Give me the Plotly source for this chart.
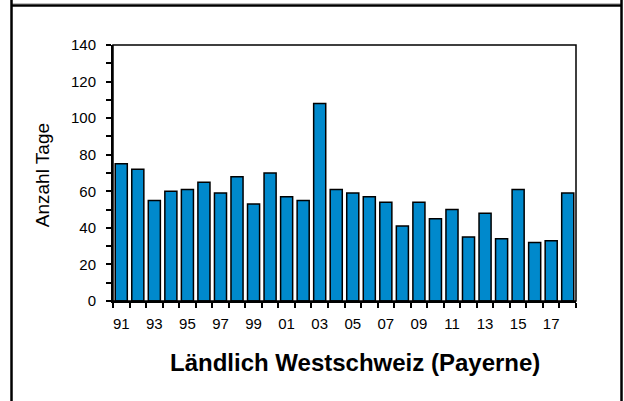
#!/usr/bin/env python
"""
Anzahl Tage - Ländlich Westschweiz (Payerne)
"""

import plotly.graph_objects as go

YEARS = list(range(1991, 2019))
TAGE = [75, 72, 55, 60, 61, 65, 59, 68, 53, 70, 57, 55, 108, 61,
        59, 57, 54, 41, 54, 45, 50, 35, 48, 34, 61, 32, 33, 59]
TITLE = 'Ländlich Westschweiz (Payerne)'
Y_TITLE = 'Anzahl Tage'

FONT = 'Liberation Sans, Arial, sans-serif'
BLUE = 'rgb(0,137,204)'


def year_labels(years):
    "Two digit labels, every second year"
    return [str(y)[2:] for y in years[::2]]


fig = go.Figure()
fig.add_trace(go.Bar(
    x=list(range(len(YEARS))),
    y=TAGE,
    marker=dict(color=BLUE, line=dict(color='black', width=1.5)),
    hoverinfo='skip'
))

fig.update_layout(
    width=624,
    height=401,
    margin=dict(l=113, r=48, t=45, b=100),
    paper_bgcolor='white',
    plot_bgcolor='white',
    showlegend=False,
    bargap=0.27,
    font=dict(family=FONT, size=15, color='black'),
    xaxis=dict(
        range=[-0.5, len(YEARS) - 0.5],
        tickmode='array',
        tickvals=list(range(0, len(YEARS), 2)),
        ticktext=year_labels(YEARS),
        ticks='outside',
        ticklen=5,
        tickcolor='rgba(0,0,0,0)',
        ticklabelstandoff=3,
        showgrid=False,
        zeroline=False,
        showline=True,
        linecolor='black',
        linewidth=2,
        minor=dict(
            tickmode='array',
            tickvals=[i - 0.5 for i in range(len(YEARS) + 1)],
            ticks='outside',
            ticklen=5,
            tickwidth=1.5,
            tickcolor='black',
            showgrid=False
        )
    ),
    yaxis=dict(
        range=[0, 140],
        tickmode='linear',
        tick0=0,
        dtick=20,
        ticks='outside',
        ticklen=5,
        tickwidth=1.5,
        tickcolor='black',
        ticklabelstandoff=7,
        showgrid=False,
        zeroline=False,
        showline=True,
        linecolor='black',
        linewidth=2,
        minor=dict(dtick=10, ticks='outside', ticklen=5, tickwidth=1.5,
                   tickcolor='black', showgrid=False)
    )
)

# top/right edge of the plot area
fig.add_shape(type='rect', xref='paper', yref='paper', x0=0, x1=1, y0=0, y1=1,
              line=dict(color='black', width=1.5))

# outer frame (left, top, right)
fig.add_shape(type='line', xref='paper', yref='paper',
              x0=-0.2192, x1=1.0983, y0=1.1543, y1=1.1543,
              line=dict(color='black', width=2.5))
fig.add_shape(type='line', xref='paper', yref='paper',
              x0=-0.2192, x1=1.0983, y0=1.1620, y1=1.1620,
              line=dict(color='rgb(190,190,190)', width=1))
fig.add_shape(type='line', xref='paper', yref='paper',
              x0=-0.2192, x1=-0.2192, y0=-0.45, y1=1.2,
              line=dict(color='black', width=2.5))
fig.add_shape(type='line', xref='paper', yref='paper',
              x0=1.0983, x1=1.0983, y0=-0.45, y1=1.2,
              line=dict(color='black', width=2.5))

fig.add_annotation(
    text='<b>' + TITLE + '</b>', xref='paper', yref='paper',
    x=0.5227, y=-0.242, showarrow=False,
    xanchor='center', yanchor='middle',
    font=dict(family=FONT, size=24, color='black')
)
fig.add_annotation(
    text=Y_TITLE, xref='paper', yref='paper',
    x=-0.153, y=0.492, showarrow=False, textangle=-90,
    xanchor='center', yanchor='middle',
    font=dict(family=FONT, size=19, color='black')
)

# the page body has a default margin; drop it so the chart fills the window
fig.write_html('out.html',
               config={'displayModeBar': False},
               post_script="document.body.style.margin='0';"
                           "document.body.style.overflow='hidden';")
